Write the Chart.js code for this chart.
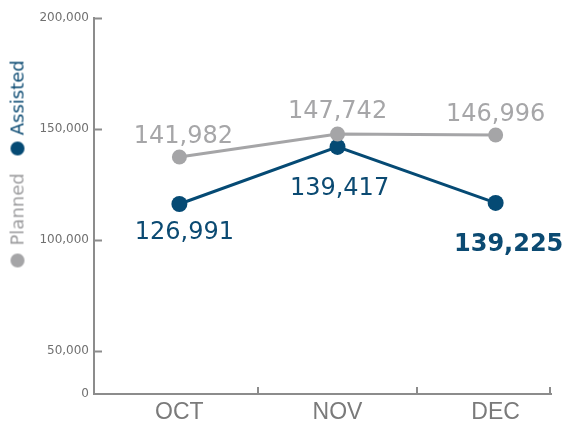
<!DOCTYPE html>
<html>
<head>
<meta charset="utf-8">
<script src="https://cdn.jsdelivr.net/npm/chart.js@4"></script>
<style>
  html, body { margin: 0; padding: 0; background: #fff; }
  #wrap { position: relative; width: 572px; height: 428px; }
  #legend {
    position: absolute; left: -90px; top: 150px; width: 215px; height: 20px;
    transform: rotate(-90deg); transform-origin: 50% 50%;
    display: flex; align-items: center; white-space: nowrap;
    font-family: "DejaVu Sans", sans-serif; font-size: 18px; line-height: 20px;
  }
  #legend .dot { width: 14px; height: 14px; border-radius: 50%; display: inline-block; flex: none; }
</style>
</head>
<body>
<div id="wrap">
  <canvas id="c" width="572" height="428"></canvas>
  <div id="legend">
    <span class="dot" style="background:#a5a5a7"></span>
    <span style="margin-left:8px;color:#9c9c9e">Planned</span>
    <span class="dot" style="background:#054a74;margin-left:18px"></span>
    <span style="margin-left:6px;color:#0b4a72">Assisted</span>
  </div>
</div>
<script>
// ---- data ----
const categories = ['OCT', 'NOV', 'DEC'];
const plannedValues = [137400, 147750, 147300];
const assistedValues = [116200, 141900, 116700];
const plannedLabels = ['141,982', '147,742', '146,996'];
const assistedLabels = ['126,991', '139,417', '139,225'];
const yTickValues = [30600, 50000, 100000, 150000, 200000];
const yTickLabels = ['0', '50,000', '100,000', '150,000', '200,000'];

const AXIS = '#8c8c8c';

const valueLabelPlugin = {
  id: 'valueLabels',
  afterDatasetsDraw(chart, args, opts) {
    const ctx = chart.ctx;
    ctx.save();
    ctx.textAlign = 'center';
    ctx.textBaseline = 'alphabetic';
    const m0 = chart.getDatasetMeta(0);
    m0.data.forEach((pt, i) => {
      ctx.font = '24px "DejaVu Sans", sans-serif';
      ctx.fillStyle = '#a6a6a8';
      ctx.fillText(plannedLabels[i], pt.x + opts.plannedDx[i], pt.y - opts.plannedDy[i]);
    });
    const m1 = chart.getDatasetMeta(1);
    m1.data.forEach((pt, i) => {
      const bold = i === m1.data.length - 1;
      ctx.font = (bold ? 'bold ' : '') + '24px "DejaVu Sans", sans-serif';
      ctx.fillStyle = '#0b4a72';
      ctx.fillText(assistedLabels[i], pt.x + opts.assistedDx[i], pt.y + opts.assistedDy[i]);
    });
    ctx.restore();
  }
};

const innerTicksPlugin = {
  id: 'innerTicks',
  afterDraw(chart) {
    const ctx = chart.ctx;
    const y = chart.scales.y, x = chart.scales.x;
    ctx.save();
    ctx.strokeStyle = AXIS;
    ctx.lineWidth = 2;
    ctx.beginPath();
    y.ticks.forEach((t, i) => {
      if (i === 0) return;
      const py = Math.round(y.getPixelForValue(t.value)) + 0.5;
      ctx.moveTo(x.left, py);
      ctx.lineTo(x.left + 8, py);
    });
    const dividers = categories.map((c, i) => i + 0.5).slice(0, categories.length - 1);
    dividers.push(x.max);
    dividers.forEach(v => {
      const px = Math.min(Math.round(x.getPixelForValue(v)), x.right - 1);
      ctx.moveTo(px, y.bottom);
      ctx.lineTo(px, y.bottom - 7);
    });
    ctx.stroke();
    ctx.restore();
  }
};

new Chart(document.getElementById('c'), {
  type: 'line',
  data: {
    datasets: [
      {
        label: 'Planned',
        data: plannedValues.map((v, i) => ({ x: i, y: v })),
        borderColor: '#a5a5a7',
        backgroundColor: '#a5a5a7',
        borderWidth: 3,
        pointRadius: 7.5,
        pointBorderWidth: 0,
        fill: false,
        tension: 0
      },
      {
        label: 'Assisted',
        data: assistedValues.map((v, i) => ({ x: i, y: v })),
        borderColor: '#054a74',
        backgroundColor: '#054a74',
        borderWidth: 3,
        pointRadius: 8,
        pointBorderWidth: 0,
        fill: false,
        tension: 0
      }
    ]
  },
  options: {
    responsive: false,
    animation: false,
    devicePixelRatio: 1,
    layout: { padding: { top: 18, right: 21, left: 0, bottom: 0 } },
    plugins: {
      legend: { display: false },
      tooltip: { enabled: false },
      valueLabels: {
        plannedDx: [4, 0, 0],
        plannedDy: [14, 16, 14],
        assistedDx: [5, 2, 13],
        assistedDy: [35, 48, 48]
      }
    },
    scales: {
      x: {
        type: 'linear',
        min: -0.54,
        max: 2.35,
        afterBuildTicks: s => { s.ticks = categories.map((c, i) => ({ value: i })); },
        afterFit: s => { s.height = 34; },
        grid: { display: false, drawTicks: false },
        border: { display: true, color: AXIS, width: 2 },
        ticks: {
          padding: 5,
          color: '#7a7a7a',
          font: { family: '"Liberation Sans", sans-serif', size: 23 },
          callback: v => categories[v]
        }
      },
      y: {
        min: 30600,
        max: 200000,
        afterBuildTicks: s => { s.ticks = yTickValues.map(v => ({ value: v })); },
        afterFit: s => { s.width = 94; },
        grid: { display: false, drawTicks: false },
        border: { display: true, color: AXIS, width: 2 },
        ticks: {
          padding: 5,
          color: '#707070',
          font: { family: '"DejaVu Sans", sans-serif', size: 12 },
          callback: (v, i) => yTickLabels[i]
        }
      }
    }
  },
  plugins: [valueLabelPlugin, innerTicksPlugin]
});
</script>
</body>
</html>
